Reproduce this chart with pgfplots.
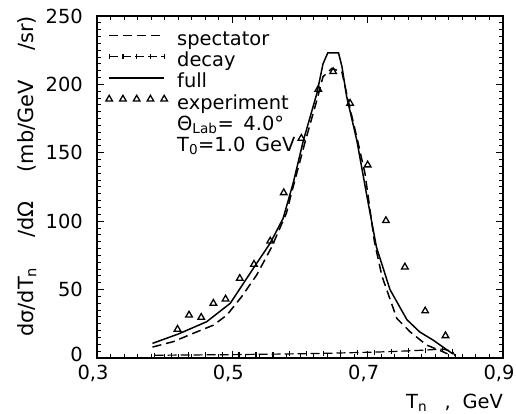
\documentclass[border=0pt]{standalone}
\usepackage{fontspec}
\setmainfont{DejaVu Sans}
\usepackage{pgfplots}
\pgfplotsset{compat=1.18}
\pgfplotsset{
  linelegend/.style={legend image code/.code={\draw[##1] (0bp,5bp) -- (55bp,5bp);}},
  pointlegend/.style={legend image code/.code={\draw[##1] plot coordinates {(0bp,5bp) (13.75bp,5bp) (27.5bp,5bp) (41.25bp,5bp) (55bp,5bp)};}},
}
\begin{document}
\begin{tikzpicture}
\useasboundingbox (-97bp,-56bp) rectangle (419bp,358bp);
\begin{axis}[
  scale only axis, width=406bp, height=342bp,
  at={(0,0)}, anchor=south west,
  xmin=0.3, xmax=0.9, ymin=0, ymax=250,
  xtick={0.3,0.5,0.7,0.9}, xticklabels={{0,3},{0,5},{0,7},{0,9}},
  minor x tick num=9,
  ytick={0,50,100,150,200,250}, yticklabels={\raisebox{7bp}{0},50,100,150,200,250},
  minor y tick num=9,
  tick align=inside, major tick length=7bp, minor tick length=4bp,
  every tick/.style={black, line width=1bp},
  axis line style={line width=1.4bp},
  ticklabel style={font=\fontsize{19.5}{22}\selectfont},
  /pgf/number format/assume math mode=true,
  xticklabel style={inner sep=0pt, yshift=-7bp, xshift=-4bp, anchor=north},
  yticklabel style={inner sep=0pt, xshift=-14bp, anchor=east},
  xlabel={T\textsubscript{n}\hspace{0.9em},\hspace{0.6em}GeV},
  xlabel style={at={(rel axis cs:1,0)}, anchor=north east, inner sep=0pt, yshift=-36bp, font=\fontsize{19.5}{22}\selectfont},
  ylabel={dσ/dT\textsubscript{n}\hspace{1.4em}/dΩ\hspace{1.4em}(mb/GeV\hspace{1.4em}/sr)},
  ylabel style={at={(rel axis cs:0,0.531)}, anchor=center, yshift=70bp, font=\fontsize{21}{22}\selectfont},
  legend style={draw=none, fill=none, at={(axis description cs:0,1)}, anchor=north west,
    xshift=8.7bp, yshift=-13.7bp, inner sep=0pt, row sep=0pt, column sep=0pt,
    font=\fontsize{19.5}{22}\selectfont,
    nodes={inner sep=1.3bp, text height=14.4bp, text depth=4.2bp},
    /tikz/every odd column/.append style={column sep=8.4bp}},
  legend cell align=left,
]
% spectator
\addplot[black, line width=1.5bp, dash pattern=on 9bp off 5bp, linelegend] coordinates {
(0.382,8) (0.413,12) (0.442,18) (0.472,24) (0.492,31.4) (0.514,45) (0.536,60.7)
(0.558,81) (0.580,106) (0.588,121.6) (0.607,157) (0.625,188.6) (0.634,205.6)
(0.647,211.7) (0.662,209) (0.671,188.6) (0.686,157) (0.696,135) (0.710,85)
(0.721,60) (0.743,29) (0.763,19) (0.787,9.5) (0.811,4.6) (0.818,3)};
\addlegendentry{spectator}
% decay
\addplot[black, line width=1.2bp, dash pattern=on 9bp off 4bp, mark=|, mark size=2.5bp,
  mark options={solid, line width=1.2bp}, pointlegend] coordinates {
(0.385,2.0) (0.41,2.1) (0.435,2.2) (0.46,2.3) (0.485,2.4) (0.51,2.5) (0.535,2.7)
(0.56,2.8) (0.585,3.0) (0.61,3.2) (0.635,3.4) (0.66,3.7) (0.685,4.0) (0.71,4.3)
(0.735,4.7) (0.76,5.2) (0.785,5.8) (0.81,6.5) (0.825,5) (0.83,1)};
\addlegendentry{decay}
% full
\addplot[black, line width=1.5bp, linelegend] coordinates {
(0.382,10.7) (0.42,17.5) (0.462,26.5) (0.497,40) (0.531,65.5) (0.556,84) (0.575,102)
(0.59,128) (0.605,159) (0.625,193.5) (0.634,215) (0.641,223) (0.657,223) (0.662,213)
(0.669,191) (0.684,159) (0.699,118) (0.713,81) (0.733,50) (0.758,28) (0.777,19)
(0.797,13) (0.817,6) (0.826,3)};
\addlegendentry{full}
% experiment
\addplot[black, only marks, mark=triangle, mark size=3.8bp, mark options={line width=1.3bp, solid}, pointlegend] coordinates {
(0.419,21.0) (0.436,31.4) (0.454,29.7) (0.472,40.0) (0.490,43.1) (0.511,58.2)
(0.532,68.5) (0.556,85.5) (0.576,120.8) (0.602,160.6) (0.627,196.4) (0.649,209.3)
(0.674,186.2) (0.700,141.1) (0.727,100.4) (0.755,66.5) (0.785,34.4) (0.815,16.3)};
\addlegendentry{experiment}
\addlegendimage{empty legend}
\addlegendentry{Θ\textsubscript{Lab}=\hspace{0.5em}4.0°}
\addlegendimage{empty legend}
\addlegendentry{T\textsubscript{0}=1.0\hspace{0.5em}GeV}
\end{axis}
\end{tikzpicture}
\end{document}
